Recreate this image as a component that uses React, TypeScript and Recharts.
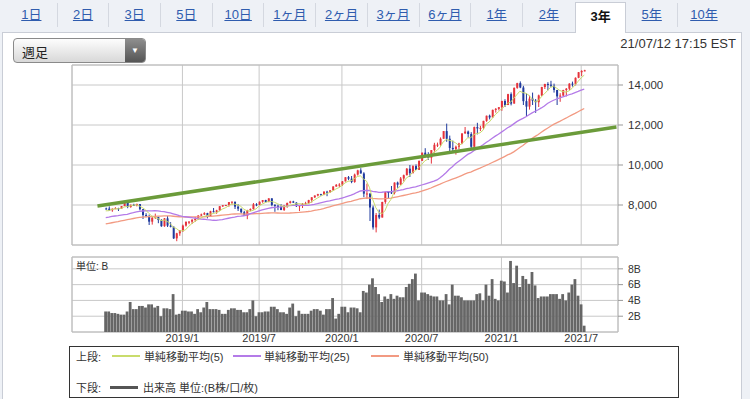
import React from 'react'
import {
  Bar,
  CartesianGrid,
  ComposedChart,
  Line,
  ReferenceArea,
  ReferenceLine,
  XAxis,
  YAxis,
} from 'recharts'

// weekly closes before the visible range (only used for the moving averages)
const preCloses = [
  6256, 6216, 6265, 6435, 6360, 6448, 6427, 6496, 6590, 6606,
  6629, 6701, 6764, 6750, 6783, 6889, 6848, 6840, 6937, 6959,
  6903, 7136, 7261, 7336, 7505, 7241, 6874, 7239, 7337, 7257,
  7560, 7482, 6993, 7063, 6915, 7107, 7146, 7120, 7210, 7403,
  7354, 7434, 7554, 7646, 7746, 7692, 7510, 7689, 7826,
]

const closes = [
  7820, 7737, 7812, 7839, 7816, 7946, 8110, 7903, 8010, 7987,
  8046, 7788, 7497, 7449, 7167, 7357, 7407, 7248, 6939, 7331,
  6969, 6911, 6333, 6585, 6739, 6971, 7157, 7165, 7264, 7298,
  7472, 7527, 7595, 7408, 7688, 7643, 7729, 7939, 7984, 7998,
  8146, 8164, 7917, 7816, 7637, 7453, 7742, 7797, 8032, 8006,
  8162, 8244, 8146, 8330, 8004, 7959, 7895, 7751, 7963, 8103,
  8177, 8118, 7940, 7982, 8057, 8090, 8243, 8386, 8475, 8541,
  8520, 8665, 8657, 8735, 8925, 9007, 9021, 9179, 9389, 9315,
  9151, 9520, 9731, 9577, 8567, 8576, 7875, 6880, 7502, 7373,
  8153, 8650, 8634, 8605, 9121, 9015, 9325, 9490, 9815, 9589,
  9946, 9757, 10208, 10617, 10503, 10363, 10745, 11011, 11019, 11312,
  11696, 11313, 10854, 10793, 10914, 11075, 11580, 11672, 11548, 10912,
  11895, 11829, 11855, 12206, 12464, 12378, 12756, 12805, 12888, 13202,
  12998, 13543, 13070, 13856, 14095, 13874, 13192, 12920, 13320, 13215,
  13138, 13480, 13900, 14052, 14016, 13962, 13752, 13430, 13471, 13749,
  13814, 14069, 14030, 14360, 14639, 14701, 14733,
]

const highs = [
  7870, 7930, 7830, 7890, 7860, 7950, 8130, 8060, 8020, 8060,
  8070, 8050, 7800, 7590, 7520, 7440, 7570, 7380, 7290, 7350,
  7450, 7140, 6930, 6610, 6750, 7020, 7180, 7200, 7290, 7410,
  7490, 7570, 7640, 7610, 7710, 7850, 7760, 7950, 8000, 8010,
  8150, 8180, 8100, 8040, 7810, 7710, 7760, 7830, 8100, 8090,
  8180, 8250, 8260, 8340, 8340, 8040, 8020, 8040, 7990, 8120,
  8210, 8210, 8140, 8000, 8100, 8160, 8260, 8390, 8480, 8560,
  8560, 8690, 8710, 8750, 8940, 9050, 9090, 9200, 9390, 9450,
  9450, 9570, 9760, 9840, 9640, 9070, 8580, 7970, 7600, 7770,
  8160, 8660, 8700, 8950, 9130, 9170, 9400, 9520, 9850, 10000,
  9990, 10030, 10220, 10620, 10840, 10640, 10750, 11110, 11120, 11380,
  11700, 12070, 11470, 11220, 10970, 11110, 11580, 11900, 11720, 11640,
  11920, 12110, 11960, 12210, 12470, 12520, 12770, 12850, 12900, 13210,
  13290, 13560, 13630, 13880, 14110, 14180, 13960, 13600, 13470, 13620,
  13300, 13520, 13910, 14060, 14140, 14210, 14070, 13650, 13590, 13760,
  13850, 14090, 14170, 14380, 14650, 14740, 14760,
]

const lows = [
  7770, 7700, 7660, 7800, 7700, 7810, 7950, 7840, 7860, 7960,
  7930, 7730, 7300, 7390, 7000, 7020, 7300, 7090, 6910, 6910,
  6900, 6880, 6300, 6190, 6460, 6650, 6920, 7040, 7050, 7160,
  7260, 7450, 7500, 7330, 7410, 7630, 7560, 7730, 7900, 7950,
  7910, 8020, 7800, 7700, 7580, 7450, 7290, 7690, 7770, 7940,
  8000, 8110, 8130, 8140, 7940, 7660, 7740, 7740, 7700, 7860,
  8070, 8100, 7900, 7700, 7850, 8030, 8060, 8120, 8350, 8430,
  8470, 8490, 8440, 8600, 8730, 8910, 8890, 8950, 9180, 9240,
  9090, 9110, 9470, 9570, 8390, 8300, 7200, 6770, 6630, 7290,
  7410, 8060, 8340, 8550, 8530, 8860, 9090, 9180, 9480, 9400,
  9600, 9750, 9820, 10240, 10380, 10260, 10070, 10620, 10900, 10960,
  11310, 11160, 10650, 10660, 10520, 10780, 11040, 11560, 11370, 10820,
  10850, 11530, 11700, 11780, 12160, 12280, 12400, 12620, 12730, 12710,
  12900, 13100, 12980, 13110, 13810, 13840, 13000, 12400, 12770, 13000,
  12610, 12900, 13440, 13800, 13730, 13900, 13620, 13000, 13160, 13410,
  13430, 13740, 13920, 13980, 14340, 14450, 14680,
]

// volume, billions
const volumes = [
  2.6, 2.6, 2.4, 2.4, 2.3, 2.2, 2.2, 2.6, 3.8, 2.9,
  2.9, 3.3, 3.3, 3.1, 3.5, 3.5, 3.1, 3.3, 2.0, 3.0,
  3.0, 2.9, 4.8, 2.2, 2.3, 2.7, 2.7, 2.6, 2.6, 2.3,
  2.9, 2.5, 3.1, 3.8, 2.9, 2.9, 2.9, 2.8, 2.3, 2.3,
  2.8, 3.0, 3.0, 2.8, 2.8, 2.5, 2.5, 2.9, 4.0, 2.0,
  2.5, 2.5, 2.6, 2.6, 3.2, 3.2, 2.9, 2.5, 2.5, 2.3,
  3.1, 3.6, 2.0, 2.7, 2.3, 2.3, 2.3, 2.7, 2.9, 2.9,
  2.7, 2.2, 2.9, 2.9, 4.3, 1.7, 2.3, 3.2, 3.2, 2.5,
  3.1, 3.1, 3.0, 2.5, 5.2, 5.0, 6.0, 6.8, 5.7, 4.8,
  3.8, 4.5, 4.2, 4.8, 4.2, 4.6, 4.4, 4.4, 5.7, 6.1,
  6.7, 7.4, 4.0, 5.0, 5.0, 4.8, 4.6, 4.5, 4.5, 4.0,
  4.0, 4.8, 3.5, 6.0, 4.6, 4.6, 4.4, 4.0, 4.0, 4.0,
  4.0, 4.8, 4.9, 4.0, 6.0, 4.6, 6.7, 4.2, 4.0, 6.5,
  6.4, 5.0, 9.0, 6.2, 8.4, 5.7, 7.1, 6.7, 6.1, 7.6,
  5.9, 4.3, 4.5, 4.5, 4.5, 4.8, 4.8, 4.8, 4.2, 4.8,
  4.0, 5.0, 6.0, 6.7, 4.6, 3.5, 0.8,
]

const tickWeeks = [25, 50, 77, 103, 129, 155]
const tickLabels = ['2019/1', '2019/7', '2020/1', '2020/7', '2021/1', '2021/7']
const priceTicks = [8000, 10000, 12000, 14000]
const volumeTicks = [2, 4, 6, 8]
const trendLine = [
  { week: -2.7, value: 7950 },
  { week: 166.5, value: 11900 },
]
const tabs = ['1日', '2日', '3日', '5日', '10日', '1ヶ月', '2ヶ月', '3ヶ月', '6ヶ月', '1年', '2年', '3年', '5年', '10年']

const FONT = "'Liberation Sans', Arial, 'Noto Sans CJK JP', sans-serif"
const UP = '#e5333b'
const DOWN = '#1f3a9e'
const MA5 = '#c9dc6c'
const MA25 = '#b47be8'
const MA50 = '#f29a82'
const GRID = '#c8c8c8'
const X_DOMAIN = [-11, 167]

const allCloses = [...preCloses, ...closes]
const sma = (i: number, n: number) => {
  const end = i + preCloses.length
  let s = 0
  for (let k = end - n + 1; k <= end; k++) s += allCloses[k]
  return s / n
}

const data = closes.map((close, i) => {
  const open = i === 0 ? preCloses[preCloses.length - 1] : closes[i - 1]
  const high = Math.max(highs[i], open, close)
  const low = Math.min(lows[i], open, close)
  return {
    week: i,
    open,
    close,
    high,
    low,
    range: [low, high],
    volume: volumes[i],
    ma5: sma(i, 5),
    ma25: sma(i, 25),
    ma50: sma(i, 50),
  }
})

const Candle = (props: any) => {
  const { x, y, width, height, payload } = props
  if (!payload || height == null) return null
  const { open, close, high, low } = payload
  const color = close >= open ? UP : DOWN
  const span = high - low || 1
  const py = (v: number) => y + ((high - v) / span) * height
  const cx = x + width / 2
  const top = py(Math.max(open, close))
  const bottom = py(Math.min(open, close))
  return (
    <g>
      <line x1={cx} x2={cx} y1={y} y2={y + height} stroke={color} strokeWidth={1} />
      <rect x={x} y={top} width={width} height={Math.max(1, bottom - top)} fill={color} />
    </g>
  )
}

const axisTick = { fontSize: 11, fill: '#333', fontFamily: FONT }

export default function App() {
  return (
    <div
      style={{
        position: 'absolute',
        left: 0,
        top: 0,
        width: 750,
        height: 399,
        overflow: 'hidden',
        background: '#eef1f6',
        fontFamily: FONT,
        color: '#333',
      }}
    >
      {/* tabs */}
      {tabs.map((t, i) => {
        const selected = t === '3年'
        return (
          <div
            key={t}
            style={{
              position: 'absolute',
              left: 6 + i * 51.7,
              top: selected ? 2 : 3,
              width: 51.7,
              height: selected ? 31 : 24,
              lineHeight: selected ? '27px' : '24px',
              textAlign: 'center',
              fontSize: 13,
              color: selected ? '#111' : '#2f5cae',
              fontWeight: selected ? 'bold' : 'normal',
              textDecoration: selected ? 'none' : 'underline',
              background: selected ? '#fff' : 'transparent',
              border: selected ? '1px solid #c9cdd6' : 'none',
              borderBottom: 'none',
              borderRight: !selected && i < tabs.length - 1 && tabs[i + 1] !== '3年' ? '1px solid #d4d8e0' : selected ? '1px solid #c9cdd6' : 'none',
              boxSizing: 'border-box',
              zIndex: selected ? 2 : 1,
            }}
          >
            {t}
          </div>
        )
      })}

      {/* panel */}
      <div
        style={{
          position: 'absolute',
          left: 2,
          top: 32,
          width: 740,
          height: 380,
          background: '#fff',
          border: '1px solid #c9cdd6',
          boxSizing: 'border-box',
        }}
      />

      {/* dropdown */}
      <div
        style={{
          position: 'absolute',
          left: 13,
          top: 38,
          width: 133,
          height: 25,
          border: '1px solid #8a8a8a',
          borderRadius: 4,
          background: 'linear-gradient(#fdfdfd, #d8d8d8)',
          boxSizing: 'border-box',
          overflow: 'hidden',
        }}
      >
        <span style={{ position: 'absolute', left: 8, top: 3, fontSize: 13, color: '#222' }}>週足</span>
        <div
          style={{
            position: 'absolute',
            right: 0,
            top: 0,
            width: 20,
            height: 23,
            background: 'linear-gradient(#8e8e8e, #555)',
            color: '#fff',
            fontSize: 8,
            lineHeight: '23px',
            textAlign: 'center',
          }}
        >
          ▼
        </div>
      </div>

      <div style={{ position: 'absolute', right: 14, top: 36, fontSize: 13, color: '#333' }}>
        21/07/12 17:15 EST
      </div>

      {/* price chart */}
      <div style={{ position: 'absolute', left: 0, top: 0 }}>
        <ComposedChart
          width={750}
          height={260}
          data={data}
          margin={{ top: 65, right: 62, bottom: 15, left: 72 }}
        >
          <CartesianGrid stroke={GRID} />
          <XAxis
            dataKey="week"
            type="number"
            domain={X_DOMAIN}
            ticks={tickWeeks}
            allowDataOverflow
            hide
          />
          <YAxis
            orientation="right"
            width={70}
            domain={[6000, 15000]}
            ticks={priceTicks}
            interval={0}
            allowDataOverflow
            axisLine={false}
            tickSize={5}
            tickMargin={5}
            tickLine={{ stroke: '#999' }}
            tick={{ ...axisTick, fontSize: 11.5 }}
            tickFormatter={(v: number) => v.toLocaleString('en-US')}
          />
          <ReferenceArea
            x1={X_DOMAIN[0]}
            x2={X_DOMAIN[1]}
            y1={6000}
            y2={15000}
            fill="none"
            stroke="#bcbcbc"
          />
          <Line dataKey="ma50" stroke={MA50} strokeWidth={1.3} dot={false} isAnimationActive={false} />
          <Line dataKey="ma25" stroke={MA25} strokeWidth={1.3} dot={false} isAnimationActive={false} />
          <Bar dataKey="range" barSize={2} shape={<Candle />} isAnimationActive={false} />
          <Line dataKey="ma5" stroke={MA5} strokeWidth={1} dot={false} isAnimationActive={false} />
          <ReferenceLine
            segment={[
              { x: trendLine[0].week, y: trendLine[0].value },
              { x: trendLine[1].week, y: trendLine[1].value },
            ]}
            stroke="#6b9b3a"
            strokeWidth={3.5}
          />
        </ComposedChart>
      </div>

      {/* volume chart */}
      <div style={{ position: 'absolute', left: 0, top: 250 }}>
        <ComposedChart
          width={750}
          height={100}
          data={data}
          margin={{ top: 7, right: 62, bottom: 0, left: 72 }}
        >
          <CartesianGrid stroke={GRID} />
          <XAxis
            dataKey="week"
            type="number"
            domain={X_DOMAIN}
            ticks={tickWeeks}
            interval={0}
            allowDataOverflow
            height={18}
            axisLine={false}
            tickLine={false}
            tickSize={0}
            tickMargin={2}
            tick={axisTick}
            tickFormatter={(v: number) => tickLabels[tickWeeks.indexOf(v)]}
          />
          <YAxis
            orientation="right"
            width={70}
            domain={[0, 9.5]}
            ticks={volumeTicks}
            interval={0}
            allowDataOverflow
            axisLine={false}
            tickSize={5}
            tickMargin={5}
            tickLine={{ stroke: '#999' }}
            tick={{ ...axisTick, fontSize: 10.5 }}
            tickFormatter={(v: number) => `${v}B`}
          />
          <ReferenceArea
            x1={X_DOMAIN[0]}
            x2={X_DOMAIN[1]}
            y1={0}
            y2={9.5}
            fill="none"
            stroke="#bcbcbc"
          />
          <Bar dataKey="volume" fill="#666" barSize={2.8} isAnimationActive={false} />
        </ComposedChart>
      </div>
      <div style={{ position: 'absolute', left: 76, top: 258, fontSize: 10, color: '#333' }}>単位: B</div>

      {/* legend */}
      <div
        style={{
          position: 'absolute',
          left: 69,
          top: 346,
          width: 610,
          height: 52,
          border: '1px solid #333',
          boxSizing: 'border-box',
          background: '#fff',
          fontSize: 11,
          color: '#333',
        }}
      >
        <div style={{ position: 'absolute', left: 6, top: 1 }}>上段:</div>
        <div style={{ position: 'absolute', left: 42, top: 8, width: 28, height: 2, background: MA5 }} />
        <div style={{ position: 'absolute', left: 74, top: 1 }}>単純移動平均(5)</div>
        <div style={{ position: 'absolute', left: 163, top: 8, width: 28, height: 2, background: MA25 }} />
        <div style={{ position: 'absolute', left: 194, top: 1 }}>単純移動平均(25)</div>
        <div style={{ position: 'absolute', left: 301, top: 8, width: 28, height: 2, background: MA50 }} />
        <div style={{ position: 'absolute', left: 333, top: 1 }}>単純移動平均(50)</div>
        <div style={{ position: 'absolute', left: 6, top: 32 }}>下段:</div>
        <div style={{ position: 'absolute', left: 40, top: 39, width: 28, height: 3, background: '#555' }} />
        <div style={{ position: 'absolute', left: 73, top: 32 }}>出来高 単位:(B株/口/枚)</div>
      </div>
    </div>
  )
}
